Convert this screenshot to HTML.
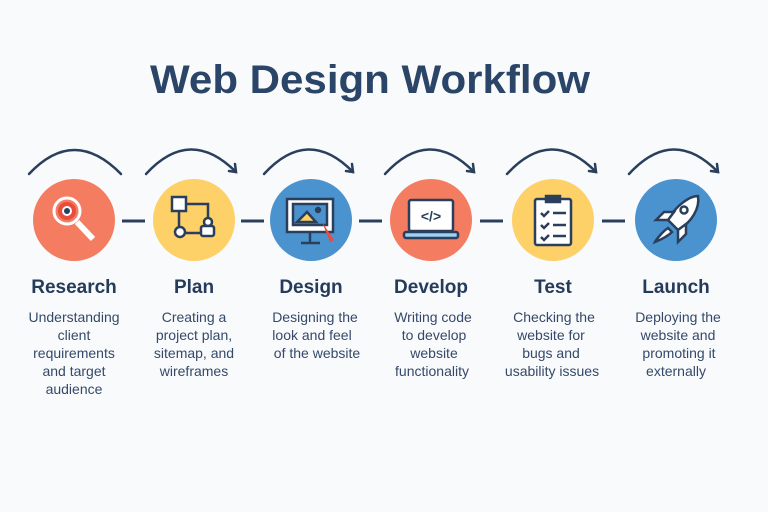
<!DOCTYPE html>
<html><head><meta charset="utf-8"><style>
html,body{margin:0;padding:0;background:#f9fafb;}
svg{display:block;}
text{font-family:"Liberation Sans",sans-serif;fill:#243b5a;}
.t{font-weight:bold;font-size:19px;text-anchor:middle;}
.d{font-size:14px;text-anchor:middle;fill:#34496a;}
</style></head><body>
<svg width="768" height="512" viewBox="0 0 768 512" xmlns="http://www.w3.org/2000/svg">
<rect width="768" height="512" fill="#f9fafb"/>
<text x="370" y="93" font-size="40" font-weight="bold" text-anchor="middle" textLength="440" lengthAdjust="spacingAndGlyphs" style="fill:#2a4568">Web Design Workflow</text>
<g fill="none" stroke="#2a3f5c" stroke-width="2.5" stroke-linecap="round">
<path d="M29 174 Q74 126 121 174"/>
<path d="M146 174 Q190 126 236 172"/><path d="M229 171 L236 172 L235 164"/>
<path d="M264 174 Q308 126 353 172"/><path d="M346 171 L353 172 L352 164"/>
<path d="M385 174 Q429 126 474 172"/><path d="M467 171 L474 172 L473 164"/>
<path d="M507 174 Q551 126 596 172"/><path d="M589 171 L596 172 L595 164"/>
<path d="M629 174 Q673 126 718 172"/><path d="M711 171 L718 172 L717 164"/>
</g>
<g stroke="#2a3f5c" stroke-width="3">
<line x1="122" y1="221" x2="145" y2="221"/>
<line x1="241" y1="221" x2="264" y2="221"/>
<line x1="359" y1="221" x2="382" y2="221"/>
<line x1="480" y1="221" x2="503" y2="221"/>
<line x1="602" y1="221" x2="625" y2="221"/>
</g>
<circle cx="74" cy="220" r="41" fill="#f47c61"/>
<circle cx="194" cy="220" r="41" fill="#fdd068"/>
<circle cx="311" cy="220" r="41" fill="#4b93cf"/>
<circle cx="431" cy="220" r="41" fill="#f47c61"/>
<circle cx="553" cy="220" r="41" fill="#fdd068"/>
<circle cx="676" cy="220" r="41" fill="#4b93cf"/>
<!-- research icon -->
<g stroke="#fff" stroke-width="3" fill="none"><circle cx="67" cy="211" r="13"/><line x1="77" y1="222" x2="93" y2="239" stroke-width="6"/></g>
<circle cx="67" cy="211" r="9" fill="#e94b3c"/><circle cx="67" cy="211" r="5" fill="#fff"/><circle cx="67" cy="211" r="3" fill="#2a3f5c"/>
<!-- plan icon -->
<g stroke="#2a3f5c" stroke-width="2.5" fill="#fff"><rect x="172" y="197" width="14" height="14"/><path d="M186 204 H208 V222 M179 211 V233 H202" fill="none"/><circle cx="180" cy="232" r="5"/><circle cx="208" cy="222" r="4"/><rect x="201" y="226" width="13" height="10" rx="2"/></g>
<!-- design icon -->
<g stroke="#2a3f5c" stroke-width="2.5"><rect x="287" y="199" width="46" height="33" fill="#fff"/><rect x="293" y="204" width="34" height="21" fill="#4b93cf"/><path d="M297 222 L307 212 L316 222Z" fill="#fdd068"/><circle cx="318" cy="210" r="2" fill="#2a3f5c"/><line x1="310" y1="233" x2="310" y2="242"/><line x1="301" y1="243" x2="320" y2="243"/></g>
<path d="M322 222 L334 240 L330 242Z" fill="#e94b3c"/>
<!-- develop icon -->
<g stroke="#2a3f5c" stroke-width="2.5"><rect x="409" y="200" width="44" height="31" fill="#fff" rx="2"/><rect x="404" y="232" width="54" height="6" fill="#9fd1f5" rx="2"/></g>
<text x="431" y="221" font-size="14" font-weight="bold" text-anchor="middle" style="fill:#2a3f5c">&lt;/&gt;</text>
<!-- test icon -->
<g stroke="#2a3f5c" stroke-width="2.5" fill="#fff"><rect x="535" y="199" width="36" height="46" rx="2"/><rect x="546" y="196" width="14" height="6" fill="#2a3f5c"/></g>
<g stroke="#2a3f5c" stroke-width="2.5" fill="none"><path d="M541 213 l3 3 l5 -5 M541 225 l3 3 l5 -5 M541 237 l3 3 l5 -5"/><path d="M553 213 H566 M553 225 H566 M553 236 H566"/></g>
<!-- launch icon -->
<g stroke="#2a3f5c" stroke-width="2.5" fill="#fff"><path d="M698 196 C690 196 676 205 668 220 L678 230 C692 222 700 208 698 196Z"/><path d="M668 220 L656 220 L664 212 L674 212Z"/><path d="M678 230 L678 242 L686 234 L686 224Z"/><path d="M668 228 C662 232 656 240 655 242 C660 240 668 236 672 232Z"/><circle cx="684" cy="210" r="3.5"/></g>
<text class="t" x="74" y="293">Research</text>
<text class="t" x="194" y="293">Plan</text>
<text class="t" x="311" y="293">Design</text>
<text class="t" x="431" y="293">Develop</text>
<text class="t" x="553" y="293">Test</text>
<text class="t" x="676" y="293">Launch</text>
<text class="d"><tspan x="74" y="322">Understanding</tspan><tspan x="74" y="340">client</tspan><tspan x="74" y="358">requirements</tspan><tspan x="74" y="376">and target</tspan><tspan x="74" y="394">audience</tspan></text>
<text class="d"><tspan x="194" y="322">Creating a</tspan><tspan x="194" y="340">project plan,</tspan><tspan x="194" y="358">sitemap, and</tspan><tspan x="194" y="376">wireframes</tspan></text>
<text class="d"><tspan x="315" y="322">Designing the</tspan><tspan x="312" y="340">look and feel</tspan><tspan x="317" y="358">of the website</tspan></text>
<text class="d"><tspan x="433" y="322">Writing code</tspan><tspan x="434" y="340">to develop</tspan><tspan x="434" y="358">website</tspan><tspan x="432" y="376">functionality</tspan></text>
<text class="d"><tspan x="554" y="322">Checking the</tspan><tspan x="551" y="340">website for</tspan><tspan x="551" y="358">bugs and</tspan><tspan x="552" y="376">usability issues</tspan></text>
<text class="d"><tspan x="678" y="322">Deploying the</tspan><tspan x="678" y="340">website and</tspan><tspan x="679" y="358">promoting it</tspan><tspan x="676" y="376">externally</tspan></text>
</svg>
</body></html>
